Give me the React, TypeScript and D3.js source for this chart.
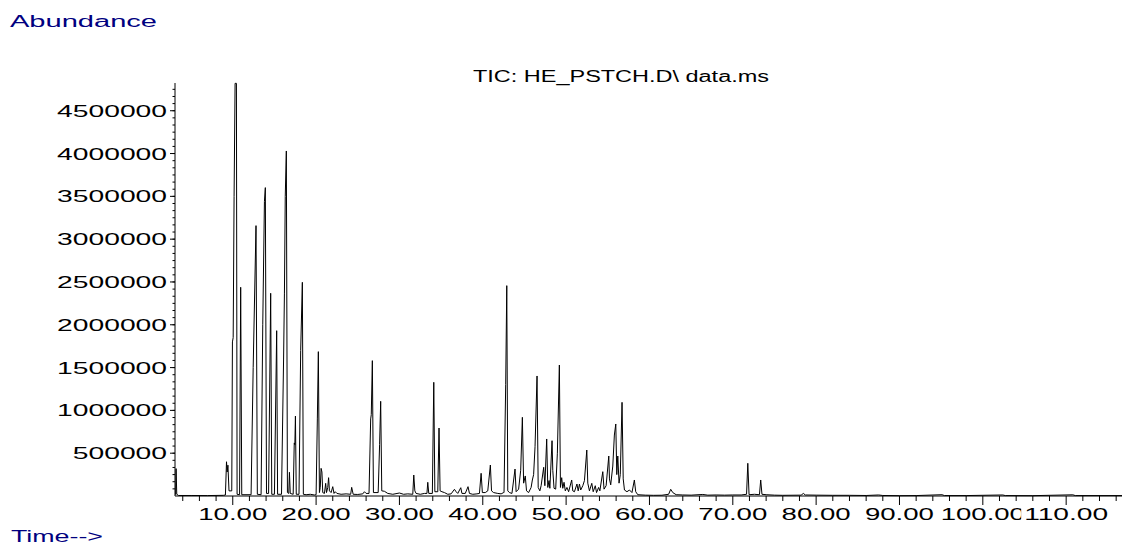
import React from "react";
import * as d3 from "d3";

// chromatogram trace, [retention time (min), abundance]
const startSegment: [number, number][] = [
    [3.14, 15000], [3.2, 320000], [3.28, 20000], [3.5, 6000], [5.0, 6000], [7.0, 5000], [8.9, 8000],
];

const earlyCluster: [number, number][] = [
    [9.12, 12000], [9.25, 400000], [9.33, 280000], [9.42, 360000], [9.55, 60000],
    [9.88, 60000], [9.96, 1800000], [10.05, 1850000], [10.16, 3500000], [10.28, 4820000],
    [10.44, 4820000], [10.52, 20000], [10.82, 15000], [10.95, 2438000], [11.08, 15000],
    [12.2, 15000], [12.45, 1500000], [12.79, 3158000], [12.95, 20000],
    [13.4, 15000], [13.6, 2000000], [13.8, 3440000], [13.91, 3602000], [14.05, 30000],
    [14.3, 30000], [14.55, 2368000], [14.68, 20000],
    [15.0, 20000], [15.27, 1931000], [15.38, 20000],
    [15.85, 20000], [16.1, 1600000], [16.2, 2370000], [16.3, 3500000], [16.43, 4030000], [16.56, 40000],
    [16.72, 30000], [16.8, 277000], [16.9, 30000],
    [17.25, 20000], [17.38, 620000], [17.45, 600000], [17.52, 934000], [17.62, 20000],
    [17.95, 20000], [18.15, 1700000], [18.35, 2496000], [18.47, 20000],
    [18.8, 15000], [19.3, 20000], [19.8, 12000],
    [20.0, 15000], [20.15, 900000], [20.27, 1686000], [20.4, 40000],
    [20.5, 100000], [20.6, 323000], [20.7, 280000], [20.8, 40000],
    [21.0, 30000], [21.15, 148000], [21.25, 40000], [21.4, 100000], [21.5, 214000], [21.6, 60000],
    [21.8, 40000], [22.0, 109000], [22.15, 30000], [22.3, 50000], [22.5, 30000],
];

const midSection: [number, number][] = [
    [23.0, 20000], [23.6, 25000], [24.15, 20000], [24.27, 101000], [24.45, 20000], [25.0, 18000],
    [25.6, 25000], [25.8, 50000], [26.0, 30000],
    [26.35, 30000], [26.55, 900000], [26.62, 950000], [26.75, 1581000], [26.88, 40000],
    [27.45, 40000], [27.62, 600000], [27.75, 1106000], [27.88, 60000],
    [28.2, 55000], [28.6, 30000], [29.2, 20000], [30.0, 35000], [30.5, 20000], [31.0, 25000],
    [31.6, 20000], [31.72, 245000], [31.85, 60000], [32.0, 30000],
    [32.5, 20000], [33.0, 30000], [33.3, 30000], [33.4, 160000], [33.52, 30000],
    [33.95, 30000], [34.12, 1328000], [34.25, 50000],
    [34.6, 50000], [34.75, 794000], [34.88, 60000], [35.1, 50000], [35.4, 40000], [35.8, 20000],
    [36.2, 25000], [36.6, 78000], [36.8, 50000], [37.0, 30000], [37.36, 97000], [37.5, 30000],
    [37.9, 30000], [38.23, 109000], [38.4, 30000], [38.8, 20000], [39.3, 25000], [39.6, 30000],
    [39.8, 265000], [39.95, 40000], [40.3, 40000], [40.6, 60000], [40.91, 362000], [41.05, 60000],
    [41.3, 40000], [41.8, 30000], [42.2, 25000], [42.5, 40000],
];

const lateCluster: [number, number][] = [
    [42.55, 40000], [42.75, 1300000], [42.88, 2457000], [43.0, 60000], [43.2, 40000], [43.5, 30000],
    [43.87, 315000], [44.0, 50000], [44.3, 80000], [44.55, 300000], [44.75, 919000], [44.9, 150000],
    [45.1, 234000], [45.25, 60000], [45.5, 40000], [45.8, 100000], [45.95, 187000], [46.1, 250000],
    [46.27, 576000], [46.51, 1402000], [46.65, 100000], [46.85, 60000], [47.0, 120000],
    [47.31, 335000], [47.45, 120000], [47.67, 666000], [47.8, 100000], [47.95, 180000], [48.05, 90000],
    [48.31, 646000], [48.4, 300000], [48.55, 90000], [48.75, 80000], [48.95, 500000], [49.19, 1530000],
    [49.32, 100000], [49.47, 214000], [49.6, 90000], [49.75, 160000], [49.9, 60000], [50.1, 100000],
    [50.3, 50000], [50.67, 187000], [50.8, 60000], [51.0, 50000], [51.3, 140000], [51.45, 60000],
    [51.6, 140000], [51.75, 70000], [52.0, 120000], [52.2, 180000], [52.48, 537000], [52.6, 150000],
    [52.8, 60000], [53.08, 148000], [53.25, 50000], [53.5, 120000], [53.65, 40000], [53.9, 100000],
    [54.05, 60000], [54.4, 284000], [54.55, 80000], [54.8, 120000], [55.12, 467000], [55.2, 200000],
    [55.35, 130000], [55.6, 350000], [55.79, 712000], [55.96, 841000], [56.08, 250000], [56.2, 467000],
    [56.35, 150000], [56.5, 250000], [56.71, 1094000], [56.85, 200000], [57.0, 70000], [57.3, 50000],
    [57.6, 70000], [57.9, 40000], [58.19, 187000], [58.35, 50000], [58.6, 15000],
];

const tailSegment: [number, number][] = [
    [59.5, 10000], [60.5, 8000], [61.5, 9000], [62.3, 20000], [62.55, 78000], [62.8, 40000],
    [63.2, 15000], [64.0, 12000], [65.0, 10000], [66.4, 18000], [67.0, 10000], [68.0, 12000],
    [69.0, 10000], [70.0, 12000], [71.0, 12000], [71.65, 20000], [71.8, 382000], [71.95, 15000],
    [72.6, 20000], [73.2, 15000], [73.35, 187000], [73.5, 20000], [74.0, 15000], [75.0, 10000],
    [76.0, 8000], [78.2, 10000], [78.47, 30000], [78.7, 12000], [80.0, 10000], [82.0, 8000],
    [84.0, 8000], [86.0, 6000], [87.5, 12000], [88.0, 6000], [90.0, 4000], [92.0, 5000],
    [95.1, 15000], [95.4, 5000], [98.0, 5000], [102.4, 12000], [102.7, 5000], [106.0, 4000],
    [110.8, 14000], [111.1, 5000], [116.7, 5000],
];

const xLabelTicks = [10, 20, 30, 40, 50, 60, 70, 80, 90, 100, 110];
const yLabelTicks = [500000, 1000000, 1500000, 2000000, 2500000, 3000000, 3500000, 4000000, 4500000];

const title = "TIC: HE_PSTCH.D\\ data.ms";

const W = 1125;
const H = 546;
const font = "'Liberation Sans', Arial, sans-serif";

const x = d3.scaleLinear().domain([3.07, 116.7]).range([175, 1122]);
const y = d3.scaleLinear().domain([0, 4824000]).range([496, 83]);

const App = () => {
    const trace = [...startSegment, ...earlyCluster, ...midSection, ...lateCluster, ...tailSegment];
    const line = d3
        .line<[number, number]>()
        .x((d) => x(d[0]))
        .y((d) => y(d[1]));

    const xMinor = d3.range(4, 117, 2).filter((t) => t % 10 !== 0);
    const yMinor = d3.range(0, 4824000, 500000 / 6).filter((v) => v > 0);
    const fmt = d3.format(".2f");

    return (
        <svg
            width={W}
            height={H}
            style={{ position: "absolute", left: 0, top: 0, background: "#fff" }}
            fontFamily={font}
        >
            <text x={10} y={27} fontSize={16} fill="#000080" textLength={147} lengthAdjust="spacingAndGlyphs">
                Abundance
            </text>
            <text x={11} y={542} fontSize={16} fill="#000080" textLength={92} lengthAdjust="spacingAndGlyphs">
                Time--&gt;
            </text>
            <text x={473} y={82} fontSize={16} fill="#000" textLength={296} lengthAdjust="spacingAndGlyphs">
                {title}
            </text>

            {/* y axis */}
            <line x1={175} x2={175} y1={83} y2={496} stroke="#000" />
            {yMinor.map((v, i) => (
                <line key={"ym" + i} x1={172.5} x2={175} y1={y(v)} y2={y(v)} stroke="#000" />
            ))}
            {yLabelTicks.map((v) => (
                <g key={"y" + v}>
                    <line x1={170} x2={175} y1={y(v)} y2={y(v)} stroke="#000" />
                    <text
                        x={167}
                        y={y(v) + 6}
                        fontSize={16}
                        textAnchor="end"
                        textLength={String(v).length * 15.7}
                        lengthAdjust="spacingAndGlyphs"
                    >
                        {v}
                    </text>
                </g>
            ))}

            {/* x axis */}
            <line x1={175} x2={1122} y1={496} y2={496} stroke="#000" />
            {xMinor.map((t) => (
                <line key={"xm" + t} x1={x(t)} x2={x(t)} y1={496} y2={501} stroke="#000" />
            ))}
            {xLabelTicks.map((t) => {
                const label = fmt(t);
                const len = label.length === 5 ? 69 : 84;
                return (
                    <g key={"x" + t}>
                        <line x1={x(t)} x2={x(t)} y1={496} y2={505} stroke="#000" />
                        <rect x={x(t) - len / 2 - 3} y={506} width={len + 6} height={16} fill="#fff" />
                        <text
                            x={x(t)}
                            y={520}
                            fontSize={16}
                            textAnchor="middle"
                            textLength={len}
                            lengthAdjust="spacingAndGlyphs"
                        >
                            {label}
                        </text>
                    </g>
                );
            })}

            <path d={line(trace) ?? ""} fill="none" stroke="#000" strokeWidth={1} />
        </svg>
    );
};

export default App;
